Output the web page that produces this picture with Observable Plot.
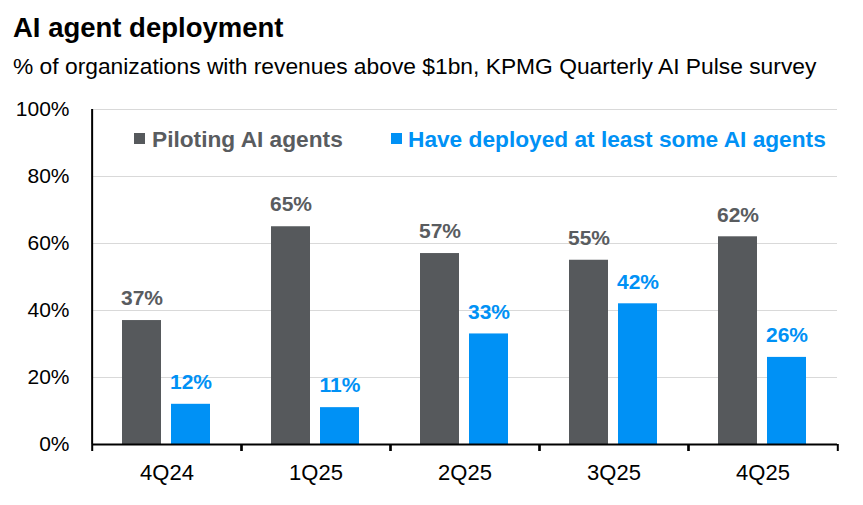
<!DOCTYPE html>
<html>
<head>
<meta charset="utf-8">
<script src="https://cdn.jsdelivr.net/npm/d3@7"></script>
<script src="https://cdn.jsdelivr.net/npm/@observablehq/plot@0.6"></script>
<style>
  body { margin: 0; background: #fff; font-family: "Liberation Sans", Arial, sans-serif; }
  #wrap { position: relative; width: 863px; height: 505px; overflow: hidden; }
  .abs { position: absolute; white-space: nowrap; line-height: 1; }
  #title { left: 13px; top: 14px; font-size: 27.5px; font-weight: bold; color: #000; }
  #subtitle { left: 13px; top: 55px; font-size: 22.8px; color: #000; }
  #chart { position: absolute; left: 0; top: 90px; }
  .leg { font-size: 22.7px; font-weight: bold; top: 128px; }
  .sw { position: absolute; width: 11px; height: 11px; top: 133px; }
</style>
</head>
<body>
<div id="wrap">
  <div id="title" class="abs">AI agent deployment</div>
  <div id="subtitle" class="abs">% of organizations with revenues above $1bn, KPMG Quarterly AI Pulse survey</div>
  <div id="chart"></div>
  <div id="legend"></div>
</div>
<script>
const quarters = ["4Q24", "1Q25", "2Q25", "3Q25", "4Q25"];
const series = ["Piloting AI agents", "Have deployed at least some AI agents"];
const piloting = [37, 65, 57, 55, 62];
const deployed = [12, 11, 33, 42, 26];
const yTicks = [0, 20, 40, 60, 80, 100];
const barColors = ["#56595C", "#0091F5"];
const labelColors = ["#595C5F", "#0091F5"];

const data = quarters.flatMap((q, i) => [
  {quarter: q, series: series[0], value: piloting[i]},
  {quarter: q, series: series[1], value: deployed[i]}
]);

const W = 863, H = 415, ML = 90, MR = 25, MT = 19, MB = 61;
const PI = 0.2, PO = 0.6;
const step = (W - ML - MR) / quarters.length;
const xStep = step / (series.length - PI + 2 * PO);

const chart = Plot.plot({
  width: W, height: H,
  marginLeft: ML, marginRight: MR, marginTop: MT, marginBottom: MB,
  style: {fontFamily: "Liberation Sans, Arial, sans-serif", color: "#000", background: "transparent"},
  fx: {domain: quarters, padding: 0, label: null},
  x: {domain: series, paddingInner: PI, paddingOuter: PO, axis: null},
  y: {domain: [0, 100], label: null},
  color: {domain: series, range: barColors},
  marks: [
    Plot.gridY(yTicks.filter(d => d > 0), {stroke: "#D9D9D9", strokeOpacity: 1, strokeWidth: 1.2}),
    Plot.axisY(yTicks, {tickFormat: d => d + "%", tickSize: 0, tickPadding: 23, fontSize: 21, label: null}),
    Plot.barY(data, {fx: "quarter", x: "series", y: "value", fill: "series"}),
    Plot.text(data, {
      fx: "quarter", x: "series", y: "value",
      text: d => d.value + "%",
      dy: -22, fontSize: 21, fontWeight: "bold",
      fill: d => labelColors[series.indexOf(d.series)]
    }),
    Plot.ruleY([0], {stroke: "#000", strokeWidth: 2}),
    Plot.ruleX([quarters[0]], {fx: d => d, x: () => series[0], dx: -xStep, y1: 0, y2: 100, stroke: "#000", strokeWidth: 2}),
    Plot.axisFx({anchor: "bottom", tickSize: 0, tickPadding: 20, fontSize: 22, label: null}),
    Plot.axisFx({anchor: "bottom", tickSize: 7, dx: -step / 2, tickFormat: () => "", label: null, strokeWidth: 2}),
    Plot.axisFx({anchor: "bottom", tickSize: 7, dx: step / 2, tickFormat: () => "", label: null, strokeWidth: 2})
  ]
});
document.getElementById("chart").appendChild(chart);

const legend = document.getElementById("legend");
const legPos = [{sw: 134, tx: 152}, {sw: 391, tx: 408}];
series.forEach((s, i) => {
  const sw = document.createElement("div");
  sw.className = "sw";
  sw.style.left = legPos[i].sw + "px";
  sw.style.background = barColors[i];
  legend.appendChild(sw);
  const t = document.createElement("div");
  t.className = "abs leg";
  t.style.left = legPos[i].tx + "px";
  t.style.color = labelColors[i];
  t.textContent = s;
  legend.appendChild(t);
});
</script>
</body>
</html>
